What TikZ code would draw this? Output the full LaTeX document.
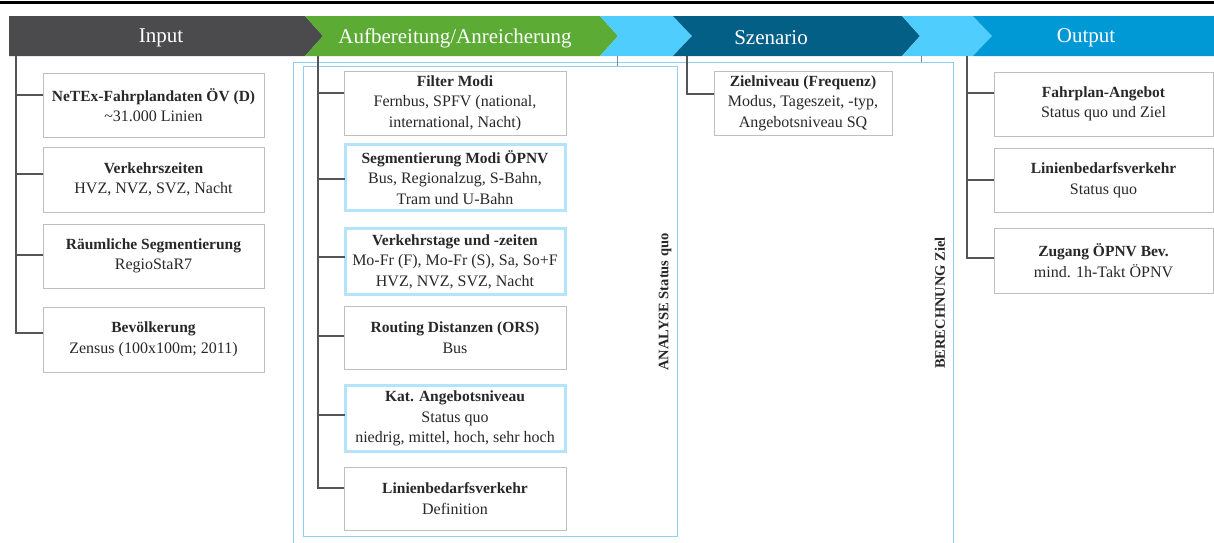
\documentclass[tikz,border=0pt]{standalone}
\usepackage{fontspec}
\setmainfont{Liberation Serif}
\usetikzlibrary{calc}

\definecolor{phaseGrey}{RGB}{75,75,77}
\definecolor{phaseGreen}{RGB}{91,171,53}
\definecolor{phaseSky}{RGB}{79,205,252}
\definecolor{phaseTeal}{RGB}{3,95,133}
\definecolor{phaseBlue}{RGB}{0,153,213}
\definecolor{boxGrey}{RGB}{191,191,191}
\definecolor{keyBlue}{RGB}{180,228,250}
\definecolor{frameBlue}{RGB}{140,210,240}
\definecolor{tickBlue}{RGB}{110,140,170}
\definecolor{wireGrey}{RGB}{85,85,85}
\definecolor{bodyText}{RGB}{40,40,40}

\newcommand{\bodyfont}{\fontsize{16}{20.5}\selectfont}
\newcommand{\hd}[1]{{\fontsize{15.5}{20.5}\selectfont\bfseries #1}}

\begin{document}
\begin{tikzpicture}[x=1pt,y=-1pt,
  infobox/.style={draw=boxGrey, line width=1pt, fill=white, align=center,
    inner sep=2pt, outer sep=0pt, font=\bodyfont, text=bodyText},
  keybox/.style={infobox, draw=keyBlue, line width=3pt},
  phasetitle/.style={text=white, font=\fontsize{21}{24}\selectfont, inner sep=0pt},
  sidelabel/.style={rotate=90, font=\fontsize{14.5}{17}\selectfont\bfseries,
    text=bodyText, inner sep=0pt},
  conn/.style={draw=wireGrey, line width=1.2pt},
  frame/.style={draw=frameBlue, line width=1pt},
  tick/.style={draw=tickBlue, line width=1pt}]

\useasboundingbox (0,0) rectangle (1214,542);

% top rule
\fill[black] (0,0.5) rectangle (1214,4);

% phase banner
\fill[phaseGrey]  (9,16) -- (305,16) -- (323,36) -- (305,56) -- (9,56) -- cycle;
\fill[phaseGreen] (305,16) -- (600,16) -- (618,36) -- (600,56) -- (305,56) -- (323,36) -- cycle;
\fill[phaseSky]   (600,16) -- (673,16) -- (692,36) -- (673,56) -- (600,56) -- (618,36) -- cycle;
\fill[phaseTeal]  (673,16) -- (902,16) -- (920,36) -- (902,56) -- (673,56) -- (692,36) -- cycle;
\fill[phaseSky]   (902,16) -- (973,16) -- (992,36) -- (973,56) -- (902,56) -- (920,36) -- cycle;
\fill[phaseBlue]  (973,16) -- (1214,16) -- (1214,56) -- (973,56) -- (992,36) -- cycle;

\node[phasetitle] (tIn)  at (161,38)  {Input};
\node[phasetitle] (tAuf) at (455,38)  {Aufbereitung/Anreicherung};
\node[phasetitle] (tSz)  at (771,38)  {Szenario};
\node[phasetitle] (tOut) at (1086,38) {Output};

% analysis frames
\draw[frame] (293,545) -- (293,62) -- (953,62) -- (953,545);
\draw[frame] (303,66) rectangle (677,536);
\draw[tick] (617,56) -- (617,66);
\draw[tick] (921,56) -- (921,62);

\node[sidelabel] (lblAna) at (665,302) {ANALYSE Status quo};
\node[sidelabel] (lblBer) at (940,303) {BERECHNUNG Ziel};

% Input column
\node[infobox, minimum width=221pt, minimum height=64pt] (b1) at (153.5,105)
  {\hd{NeTEx-Fahrplandaten ÖV (D)}\\\textasciitilde31.000 Linien};
\node[infobox, minimum width=221pt, minimum height=65pt] (b2) at (153.5,179.5)
  {\hd{Verkehrszeiten}\\HVZ, NVZ, SVZ, Nacht};
\node[infobox, minimum width=221pt, minimum height=64pt] (b3) at (153.5,256)
  {\hd{Räumliche Segmentierung}\\RegioStaR7};
\node[infobox, minimum width=221pt, minimum height=65pt] (b4) at (153.5,339.5)
  {\hd{Bevölkerung}\\Zensus (100x100m; 2011)};

% Aufbereitung column
\node[infobox, minimum width=222pt, minimum height=64pt] (a1) at (455,103)
  {\hd{Filter Modi}\\Fernbus, SPFV (national,\\international, Nacht)};
\node[keybox, minimum width=220pt, minimum height=66pt] (a2) at (455,177.5)
  {\hd{Segmentierung Modi ÖPNV}\\Bus, Regionalzug, S-Bahn,\\Tram und U-Bahn};
\node[keybox, minimum width=220pt, minimum height=66pt] (a3) at (455,261.5)
  {\hd{Verkehrstage und -zeiten}\\Mo-Fr (F), Mo-Fr (S), Sa, So+F\\HVZ, NVZ, SVZ, Nacht};
\node[infobox, minimum width=222pt, minimum height=63pt] (a4) at (455,337.5)
  {\hd{Routing Distanzen (ORS)}\\Bus};
\node[keybox, minimum width=220pt, minimum height=66pt] (a5) at (455,418.5)
  {\hd{Kat. Angebotsniveau}\\Status quo\\niedrig, mittel, hoch, sehr hoch};
\node[infobox, minimum width=222pt, minimum height=63pt] (a6) at (455,498.5)
  {\hd{Linienbedarfsverkehr}\\Definition};

% Szenario column
\node[infobox, minimum width=178pt, minimum height=64pt] (s1) at (803,103)
  {\hd{Zielniveau (Frequenz)}\\Modus, Tageszeit, -typ,\\Angebotsniveau SQ};

% Output column
\node[infobox, minimum width=219pt, minimum height=64pt] (o1) at (1103.5,104)
  {\hd{Fahrplan-Angebot}\\Status quo und Ziel};
\node[infobox, minimum width=219pt, minimum height=64pt] (o2) at (1103.5,180)
  {\hd{Linienbedarfsverkehr}\\Status quo};
\node[infobox, minimum width=219pt, minimum height=65pt] (o3) at (1103.5,260.5)
  {\hd{Zugang ÖPNV Bev.}\\mind. 1h-Takt ÖPNV};

% connector trunks and attachment points
\coordinate (inTop)  at (16,56);
\coordinate (aufTop) at (318,56);
\coordinate (szTop)  at (687,56);
\coordinate (outTop) at (967,56);

\coordinate (kb1) at (b1.west |- 0,95);
\coordinate (kb2) at (b2.west |- 0,174);
\coordinate (kb3) at (b3.west |- 0,255);
\coordinate (kb4) at (b4.west |- 0,333);
\coordinate (ka1) at (a1.west |- 0,93);
\coordinate (ka2) at (a2.west |- 0,179);
\coordinate (ka3) at (a3.west |- 0,257);
\coordinate (ka4) at (a4.west |- 0,336);
\coordinate (ka5) at (a5.west |- 0,415);
\coordinate (ka6) at (a6.west |- 0,488);
\coordinate (ks1) at (s1.west |- 0,94);
\coordinate (ko1) at (o1.west |- 0,93);
\coordinate (ko2) at (o2.west |- 0,180);
\coordinate (ko3) at (o3.west |- 0,258);

\draw[conn] (inTop) |- (kb4);
\foreach \k in {kb1,kb2,kb3} \draw[conn] (inTop |- \k) -- (\k);

\draw[conn] (aufTop) |- (ka6);
\foreach \k in {ka1,ka2,ka3,ka4,ka5} \draw[conn] (aufTop |- \k) -- (\k);

\draw[conn] (szTop) |- (ks1);

\draw[conn] (outTop) |- (ko3);
\foreach \k in {ko1,ko2} \draw[conn] (outTop |- \k) -- (\k);

\end{tikzpicture}
\end{document}
